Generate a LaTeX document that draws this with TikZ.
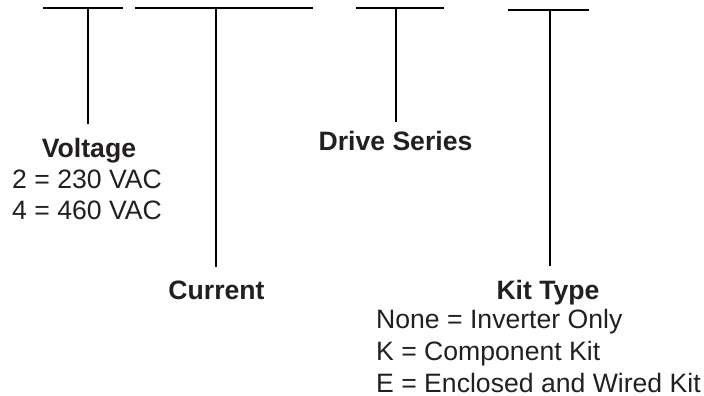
\documentclass[tikz,border=0pt]{standalone}
\usepackage{fontspec}
\setmainfont{Liberation Sans}
\usepackage{tikz}
\usetikzlibrary{positioning}
\definecolor{inkgray}{RGB}{35,31,32}
\tikzstyle{every node}=[font=\fontsize{26.6}{31}\selectfont,
                        text=inkgray,
                        inner sep=0pt]
\tikzstyle{title}=[font=\fontsize{26.6}{31}\selectfont\bfseries,
                   anchor=base,
                   outer sep=13.5pt]
\tikzstyle{choices}=[align=left,
                     anchor=base west]
\tikzstyle{blank}=[line width=1.6pt]
\tikzstyle{lead}=[line width=1.3pt]

\begin{document}
\begin{tikzpicture}[x=1pt,y=-1pt]
\useasboundingbox (0,0) rectangle (704,396);
% tops of the leads, on the blanks
\coordinate (t1) at (88,8);
\coordinate (t2) at (216,8);
\coordinate (t3) at (396,8);
\coordinate (t4) at (550,10);
\draw[blank] ([xshift=-45pt]t1) -- ([xshift=35pt]t1);
\draw[blank] ([xshift=-81pt]t2) -- ([xshift=97pt]t2);
\draw[blank] ([xshift=-40pt]t3) -- ([xshift=48pt]t3);
\draw[blank] ([xshift=-42pt]t4) -- ([xshift=39pt]t4);
% labels (base of a list = its last line)
\node (voltage) [title] at (89,157) {Voltage};
\node (voltagelist) [choices] at (12,219) {2 = 230 VAC\\4 = 460 VAC};
\node (current) [title] at (216.5,299) {Current};
\node (series) [title,outer sep=8.5pt] at (395.5,150) {Drive Series};
\node (kit) [title] at (548,299) {Kit Type};
\node (kitlist) [choices,font=\fontsize{26.6}{32}\selectfont] at (376,392)
  {None = Inverter Only\\K = Component Kit\\E = Enclosed and Wired Kit};
\draw[lead] (t1) -- (t1 |- voltage.north);
\draw[lead] (t2) -- (t2 |- current.north);
\draw[lead] (t3) -- (t3 |- series.north);
\draw[lead] (t4) -- (t4 |- kit.north);
\end{tikzpicture}
\end{document}
